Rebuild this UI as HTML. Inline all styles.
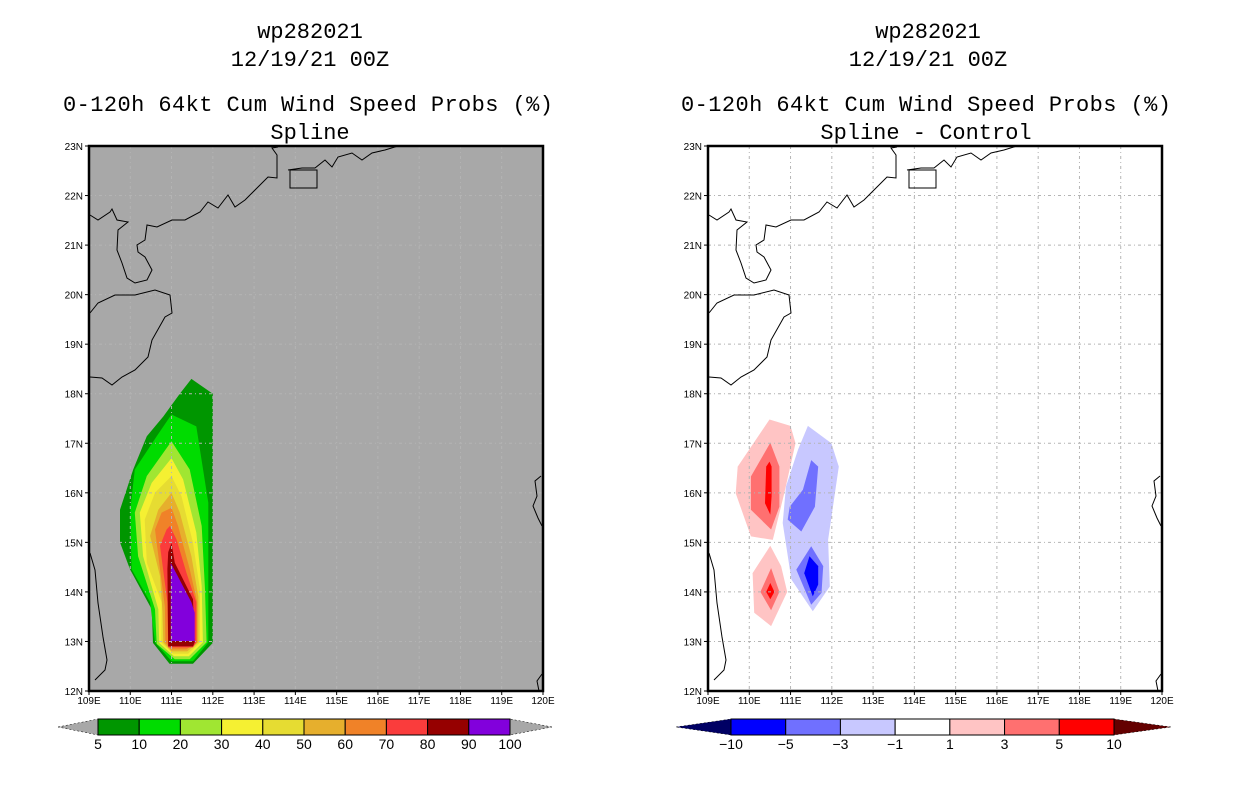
<!DOCTYPE html>
<html><head><meta charset="utf-8"><style>
html,body{margin:0;padding:0;background:#fff;}
svg{display:block;font-family:"Liberation Sans",sans-serif;}
.ttl{font-family:"Liberation Mono",monospace;font-size:22px;fill:#000;}
.tk{font-size:10px;fill:#000;}
.cb{font-size:14px;fill:#000;}
</style></head><body>
<svg id="chart" width="1236" height="800" viewBox="0 0 1236 800">
<g>
<text class="ttl" x="310" y="38" text-anchor="middle">wp282021</text>
<text class="ttl" x="310" y="66" text-anchor="middle">12/19/21 00Z</text>
<text class="ttl" x="308" y="111" text-anchor="middle" textLength="490">0-120h 64kt Cum Wind Speed Probs (%)</text>
<text class="ttl" x="310" y="139" text-anchor="middle">Spline</text>
</g>
<g>
<text class="ttl" x="928" y="38" text-anchor="middle">wp282021</text>
<text class="ttl" x="928" y="66" text-anchor="middle">12/19/21 00Z</text>
<text class="ttl" x="926" y="111" text-anchor="middle" textLength="490">0-120h 64kt Cum Wind Speed Probs (%)</text>
<text class="ttl" x="926" y="139" text-anchor="middle">Spline - Control</text>
</g>
<g id="left"></g>
<g id="right"></g>
<g id="cbars"></g>
</svg>
<script>
// ---- data ----
const lonTicks = [109,110,111,112,113,114,115,116,117,118,119,120];
const latTicks = [12,13,14,15,16,17,18,19,20,21,22,23];
const probLevels = [5,10,20,30,40,50,60,70,80,90,100];
const probColors = ["#009600","#00dc00","#a0e632","#f5f032","#e6dc32","#e6af2d","#f08228","#fa3c3c","#960000","#8200dc"];
const diffLevels = [-10,-5,-3,-1,1,3,5,10];
const diffColors = ["#0000ff","#7070ff","#c8c8ff","#ffffff","#ffc4c4","#ff7070","#ff0000"];
// probability contour polygons (lon,lat), index matches probColors
const probPolys = [
 [[111.48,18.3],[112.0,18.0],[112.0,12.97],[111.52,12.55],[110.95,12.55],[110.55,12.97],[110.52,13.65],[109.99,14.46],[109.75,15.0],[109.75,15.66],[110.07,16.47],[110.4,17.14],[110.8,17.54],[111.2,18.0]],
 [[111.0,17.58],[111.6,17.34],[111.89,15.8],[111.89,12.98],[111.52,12.6],[111.0,12.6],[110.6,12.98],[110.48,13.79],[110.03,14.46],[110.0,15.66],[110.11,16.47],[110.64,17.14]],
 [[111.0,17.04],[111.44,16.47],[111.73,15.33],[111.81,14.05],[111.85,12.98],[111.44,12.64],[111.08,12.64],[110.64,12.95],[110.6,13.65],[110.19,14.72],[110.11,15.6],[110.4,16.34]],
 [[111.0,16.7],[111.28,16.27],[111.6,15.2],[111.73,14.12],[111.76,12.98],[111.42,12.7],[111.06,12.7],[110.7,12.97],[110.68,13.65],[110.31,14.72],[110.23,15.6],[110.52,16.2]],
 [[111.0,16.34],[111.24,15.93],[111.52,14.99],[111.69,14.05],[111.69,12.98],[111.4,12.75],[111.04,12.75],[110.75,12.98],[110.76,13.79],[110.4,14.59],[110.35,15.46],[110.6,16.0]],
 [[111.0,16.0],[111.2,15.6],[111.48,14.72],[111.65,13.9],[111.65,12.98],[111.38,12.8],[111.0,12.8],[110.8,12.98],[110.78,13.6],[110.72,14.32],[110.48,15.13],[110.68,15.66]],
 [[111.0,15.7],[111.16,15.33],[111.44,14.46],[111.62,13.8],[111.62,12.98],[111.36,12.84],[110.98,12.84],[110.85,12.98],[110.84,13.7],[110.72,14.46],[110.6,15.26],[110.76,15.6]],
 [[110.96,15.33],[111.12,15.06],[111.36,14.39],[111.6,13.79],[111.6,12.98],[111.52,12.88],[110.92,12.88],[110.9,13.79],[110.72,14.93],[110.88,15.26]],
 [[111.0,14.99],[111.08,14.59],[111.52,13.85],[111.56,12.98],[111.52,12.9],[110.92,12.9],[110.9,14.46],[110.92,14.8]],
 [[110.98,14.59],[111.48,13.79],[111.56,13.58],[111.56,13.01],[110.98,13.01]]
];
// difference polygons with their colour index
const diffIdx = [4,5,6,4,5,6,2,1,1,0];
const diffPolys = [
 [[110.49,17.48],[111.0,17.35],[111.12,17.0],[110.85,16.0],[110.57,15.05],[110.04,15.12],[109.67,15.99],[109.72,16.53]],
 [[110.51,17.01],[110.73,16.53],[110.73,15.72],[110.53,15.26],[110.04,15.66],[110.04,16.33]],
 [[110.49,16.63],[110.54,16.53],[110.54,15.93],[110.51,15.56],[110.38,15.79],[110.41,16.53]],
 [[110.51,14.93],[110.77,14.52],[110.92,14.0],[110.53,13.31],[110.12,13.58],[110.08,14.38]],
 [[110.53,14.48],[110.73,14.0],[110.53,13.63],[110.27,14.0]],
 [[110.51,14.18],[110.61,14.0],[110.51,13.85],[110.41,14.0]],
 [[111.42,17.35],[111.99,17.0],[112.17,16.53],[111.91,15.05],[111.95,14.11],[111.54,13.61],[111.02,14.25],[110.81,15.39],[110.89,16.13],[111.18,16.87]],
 [[111.5,16.66],[111.67,16.53],[111.59,15.72],[111.26,15.22],[110.93,15.46],[110.98,15.72],[111.3,16.06]],
 [[111.5,14.92],[111.79,14.52],[111.75,13.98],[111.5,13.74],[111.14,14.45]],
 [[111.46,14.72],[111.67,14.52],[111.67,14.15],[111.54,13.91],[111.33,14.38]]
];
// coastline polylines (pixel offsets from plot origin)
const coasts = [
 [[1,69],[9,74],[21,66],[23,63],[28,74],[39,76],[29,84],[28,104],[33,117],[38,132],[46,137],[58,134],[63,124],[56,111],[49,106],[48,99],[56,94],[58,79],[68,81],[83,74],[96,74],[111,66],[119,56],[129,62],[139,49],[146,61],[156,54],[166,44],[179,31],[188,32],[188,9],[183,2],[189,1]],
 [[199,24],[213,22],[226,22],[236,14],[243,21],[249,11],[263,7],[273,14],[283,7],[296,4],[309,0]],
 [[1,167],[9,157],[26,149],[46,149],[66,144],[81,149],[83,167],[76,171],[63,194],[59,211],[46,224],[33,231],[23,239],[13,232],[1,231]],
 [[1,407],[6,424],[9,457],[14,491],[18,514],[16,524],[6,534]],
 [[452,330],[446,335],[448,350],[444,360],[449,372],[453,380]],
 [[453,528],[448,535],[450,545]]
];
// ---- drawing ----
const NS="http://www.w3.org/2000/svg";
function mk(tag,attrs,parent){const e=document.createElementNS(NS,tag);for(const k in attrs)e.setAttribute(k,attrs[k]);parent.appendChild(e);return e;}
const W=454,H=545,Y0=146;
function xs(x0){return lon=>x0+(lon-109)/11*W;}
function ys(lat){return Y0+(23-lat)/11*H;}

function drawMap(g,x0,bg,polys,colorOf,name){
 const X=xs(x0);
 const b=mk('rect',{x:x0,y:Y0,width:W,height:H,fill:bg},g);
 
 
 polys.forEach((p,i)=>{
  const e=mk('polygon',{points:p.map(q=>X(q[0]).toFixed(1)+','+ys(q[1]).toFixed(1)).join(' '),fill:colorOf(i)},g);
  
  
 });
 // grid
 lonTicks.slice(1,-1).forEach(l=>{const e=mk('line',{x1:X(l),x2:X(l),y1:Y0,y2:Y0+H,stroke:'#b4b4b4','stroke-width':1,'stroke-dasharray':'3,3,1,3'},g);
  
  });
 latTicks.slice(1,-1).forEach(l=>{const e=mk('line',{x1:x0,x2:x0+W,y1:ys(l),y2:ys(l),stroke:'#b4b4b4','stroke-width':1,'stroke-dasharray':'3,3,1,3'},g);
  
  });
 coasts.forEach(c=>{const e=mk('polyline',{points:c.map(q=>(x0+q[0])+','+(Y0+q[1])).join(' '),fill:'none',stroke:'#000','stroke-width':1},g);
  
  });
 const hk=mk('rect',{x:x0+201,y:Y0+24,width:27,height:18,fill:'none',stroke:'#000','stroke-width':1},g);
 
 
 const fr=mk('rect',{x:x0,y:Y0,width:W,height:H,fill:'none',stroke:'#000','stroke-width':2.5},g);
 
 
 lonTicks.forEach(l=>{mk('line',{x1:X(l),x2:X(l),y1:Y0+H,y2:Y0+H+4,stroke:'#000'},g);
  const t=mk('text',{x:X(l),y:Y0+H+13,'text-anchor':'middle',class:'tk'},g);t.textContent=l+'E';
  
  });
 latTicks.forEach(l=>{mk('line',{x1:x0-4,x2:x0,y1:ys(l),y2:ys(l),stroke:'#000'},g);
  const t=mk('text',{x:x0-6,y:ys(l)+4,'text-anchor':'end',class:'tk'},g);t.textContent=l+'N';
  
  });
}
drawMap(document.getElementById('left'),89,'#a8a8a8',probPolys,i=>probColors[i],'left');
drawMap(document.getElementById('right'),708,'#ffffff',diffPolys,i=>diffColors[diffIdx[i]],'right');

function drawBar(g,xa,xb,xc,xd,colors,levels,loCol,hiCol,name){
 const y1=719,y2=735,ym=727,bw=(xc-xb)/colors.length;
 const l=mk('polygon',{points:`${xa},${ym} ${xb},${y1} ${xb},${y2}`,fill:loCol,stroke:'#000','stroke-width':0.5,'stroke-dasharray':'2,2'},g);
 
 
 const r=mk('polygon',{points:`${xd},${ym} ${xc},${y1} ${xc},${y2}`,fill:hiCol,stroke:'#000','stroke-width':0.5,'stroke-dasharray':'2,2'},g);
 
 
 colors.forEach((c,i)=>{const e=mk('rect',{x:xb+i*bw,y:y1,width:bw,height:y2-y1,fill:c,stroke:'#000','stroke-width':1},g);
  
  });
 levels.forEach((v,i)=>{const t=mk('text',{x:xb+i*bw,y:749,'text-anchor':'middle',class:'cb'},g);t.textContent=v<0?'\u2212'+(-v):v;
  
  });
}
const cg=document.getElementById('cbars');
drawBar(cg,58,98,510,552,probColors,probLevels,'#a8a8a8','#a8a8a8','prob-colorbar');
drawBar(cg,676,731,1114,1171,diffColors,diffLevels,'#000064','#640000','diff-colorbar');
</script>
</body></html>
